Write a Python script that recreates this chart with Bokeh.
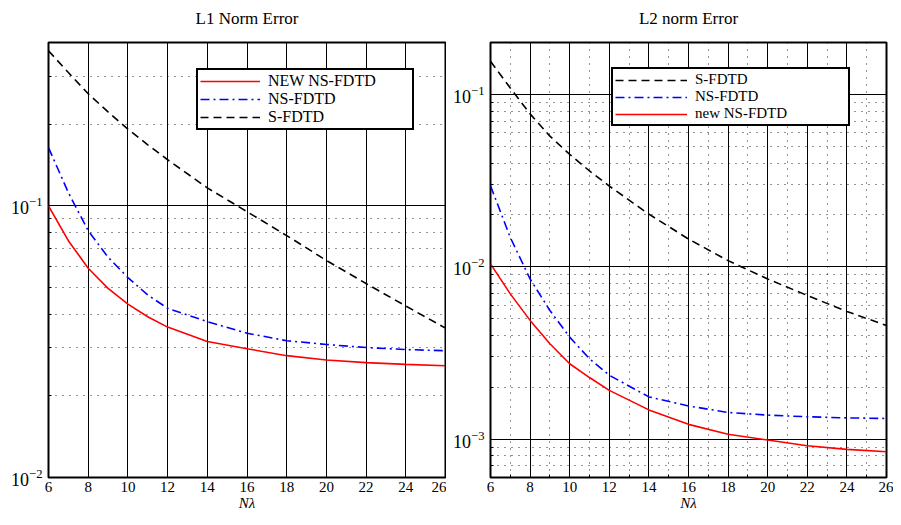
from bokeh.plotting import figure
from bokeh.layouts import row, column
from bokeh.models import FixedTicker, Legend, LegendItem
from bokeh.core.properties import value
from bokeh.embed import file_html
from bokeh.resources import INLINE

# ---------------- data ----------------
n_lambda = [6, 7, 8, 9, 10, 11, 12, 14, 16, 18, 20, 22, 24, 26]

l1_new_ns = [0.100, 0.0745, 0.0590, 0.0497, 0.0435, 0.0391, 0.0358, 0.0317, 0.0298, 0.0281, 0.0271, 0.0265, 0.0261, 0.0258]
l1_ns = [0.164, 0.112, 0.0811, 0.0648, 0.0545, 0.0470, 0.0420, 0.0375, 0.0340, 0.0319, 0.0309, 0.0301, 0.0296, 0.0293]
l1_s = [0.373, 0.310, 0.259, 0.222, 0.192, 0.168, 0.148, 0.1166, 0.0953, 0.0778, 0.0630, 0.0518, 0.0428, 0.0355]

l2_s = [0.1556, 0.109, 0.0771, 0.0573, 0.0449, 0.0360, 0.0294, 0.0202, 0.0145, 0.01086, 0.0085, 0.00682, 0.00551, 0.00457]
l2_ns = [0.0295, 0.0148, 0.0085, 0.00558, 0.00391, 0.00293, 0.00235, 0.00176, 0.00156, 0.00143, 0.00138, 0.00135, 0.00133, 0.00132]
l2_new_ns = [0.0104, 0.00697, 0.00489, 0.00358, 0.00274, 0.00228, 0.00192, 0.00148, 0.00122, 0.00107, 0.000989, 0.000916, 0.000873, 0.000847]

x_ticks = [6, 8, 10, 12, 14, 16, 18, 20, 22, 24, 26]
x_minor = [7, 9, 11, 13, 15, 17, 19, 21, 23, 25]
x_center = [16]

l1_y_major = [0.01, 0.1]
l1_y_minor = [0.02, 0.03, 0.04, 0.05, 0.06, 0.07, 0.08, 0.09, 0.2, 0.3, 0.4]
l2_y_major = [0.001, 0.01, 0.1]
l2_y_minor = [0.0006, 0.0007, 0.0008, 0.0009,
              0.002, 0.003, 0.004, 0.005, 0.006, 0.007, 0.008, 0.009,
              0.02, 0.03, 0.04, 0.05, 0.06, 0.07, 0.08, 0.09, 0.2]

titles = ["L1 Norm Error", "L2 norm Error"]
x_label = "Nλ"

FONT = "Liberation Serif"
H_TITLE = 30
H_MAIN = 487


def make_fig(width, y_range, y_major, y_minor, x_minor_grid, bl, br, bt, bb):
    p = figure(width=width, height=H_MAIN, x_range=(6, 26), y_range=y_range,
               y_axis_type="log", output_backend="svg", toolbar_location=None,
               min_border_left=bl, min_border_right=br,
               min_border_top=bt, min_border_bottom=bb)
    p.title = None

    xt = FixedTicker(ticks=x_ticks, minor_ticks=x_minor if x_minor_grid else [])
    yt = FixedTicker(ticks=y_major, minor_ticks=y_minor)
    p.xaxis.ticker = xt
    p.xgrid.ticker = xt
    p.yaxis.ticker = yt
    p.ygrid.ticker = yt

    for ax in (p.xaxis, p.yaxis):
        ax.axis_line_color = None
        ax.major_tick_in = 5
        ax.major_tick_out = 0
        ax.minor_tick_in = 3
        ax.minor_tick_out = 0
        ax.major_tick_line_color = "black"
        ax.minor_tick_line_color = "black"
        ax.major_label_text_font = FONT
        ax.major_label_text_color = "black"
    p.xaxis.major_label_text_font_size = "15px"
    p.yaxis.major_label_text_font_size = "18px"
    p.xaxis.major_label_standoff = 4
    p.yaxis.major_label_standoff = 6
    if not x_minor_grid:
        p.xaxis.minor_tick_line_color = None

    p.xaxis.axis_label = x_label
    p.xaxis.axis_label_text_font = FONT
    p.xaxis.axis_label_text_font_style = "italic"
    p.xaxis.axis_label_text_font_size = "15px"
    p.xaxis.axis_label_text_color = "black"
    p.xaxis.axis_label_standoff = 0

    p.grid.grid_line_color = "black"
    p.grid.grid_line_width = 1
    p.ygrid.minor_grid_line_color = "black"
    p.ygrid.minor_grid_line_dash = "1 6"
    p.ygrid.minor_grid_line_alpha = 0.85
    if x_minor_grid:
        p.xgrid.minor_grid_line_color = "black"
        p.xgrid.minor_grid_line_dash = "1 6"
        p.xgrid.minor_grid_line_alpha = 0.85

    p.outline_line_color = "black"
    p.outline_line_width = 2
    p.outline_line_alpha = 1.0
    p.background_fill_color = "white"
    p.border_fill_color = "white"
    return p


def make_title_strip(main, width, bl, br, text):
    # text-only strip above the plot sharing its x range, holding the title
    q = figure(width=width, height=H_TITLE, x_range=main.x_range, y_range=(0, H_TITLE),
               output_backend="svg", toolbar_location=None,
               x_axis_location=None, y_axis_location=None,
               min_border_left=bl, min_border_right=br,
               min_border_top=0, min_border_bottom=0)
    q.title = None
    q.grid.visible = False
    q.outline_line_color = None
    q.background_fill_color = "white"
    q.border_fill_color = "white"
    q.text(x=x_center, y=[H_TITLE - 18], text=[text], text_align="center",
           text_baseline="middle", text_font=value(FONT),
           text_font_size="17px", text_color="black")
    return q


# ---------------- left: L1 ----------------
p1 = make_fig(446, (0.01, 0.4), l1_y_major, l1_y_minor, False,
              48, 1, 42 - H_TITLE, H_TITLE + H_MAIN - 479)
r1a = p1.line(n_lambda, l1_new_ns, line_color="red", line_width=1.6)
r1b = p1.line(n_lambda, l1_ns, line_color="blue", line_width=1.6, line_dash="9 4 2 4")
r1c = p1.line(n_lambda, l1_s, line_color="black", line_width=1.6, line_dash="8 5")
leg1 = Legend(items=[LegendItem(label="NEW NS-FDTD", renderers=[r1a]),
                     LegendItem(label="NS-FDTD", renderers=[r1b]),
                     LegendItem(label="S-FDTD", renderers=[r1c])],
              location=(148, 347))
p1.add_layout(leg1)
t1 = make_title_strip(p1, 446, 48, 1, titles[0])

# ---------------- right: L2 ----------------
p2 = make_fig(447, (0.0006, 0.2), l2_y_major, l2_y_minor, True,
              44, 7, 39 - H_TITLE, H_TITLE + H_MAIN - 477)
r2a = p2.line(n_lambda, l2_s, line_color="black", line_width=1.6, line_dash="8 5")
r2b = p2.line(n_lambda, l2_ns, line_color="blue", line_width=1.6, line_dash="9 4 2 4")
r2c = p2.line(n_lambda, l2_new_ns, line_color="red", line_width=1.6)
leg2 = Legend(items=[LegendItem(label="S-FDTD", renderers=[r2a]),
                     LegendItem(label="NS-FDTD", renderers=[r2b]),
                     LegendItem(label="new NS-FDTD", renderers=[r2c])],
              location=(121, 351))
p2.add_layout(leg2)
t2 = make_title_strip(p2, 447, 44, 7, titles[1])

for p, gw, fs, lw in ((p1, 60, "16px", 142), (p2, 72, "15px", 151)):
    lg = p.legend[0]
    lg.border_line_color = "black"
    lg.border_line_width = 2
    lg.border_line_alpha = 1.0
    lg.background_fill_color = "white"
    lg.background_fill_alpha = 1.0
    lg.label_text_font = FONT
    lg.label_text_font_size = fs
    lg.label_text_color = "black"
    lg.glyph_width = gw
    lg.glyph_height = 14
    lg.label_height = 14
    lg.label_width = lw
    lg.label_standoff = 8
    lg.spacing = 0
    lg.padding = 2
    lg.margin = 0

layout = column(row(t1, t2), row(p1, p2))
open("out.html", "w").write(file_html(layout, INLINE))
